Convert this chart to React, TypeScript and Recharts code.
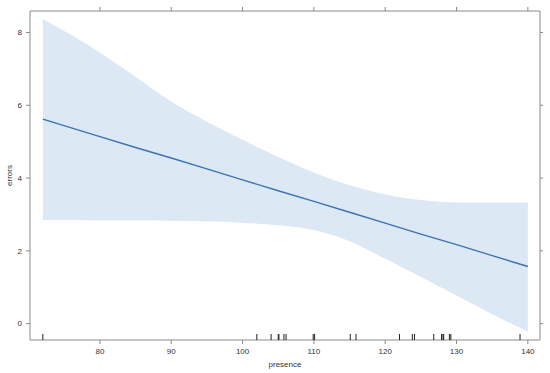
import {
  Area,
  ComposedChart,
  Line,
  Scatter,
  XAxis,
  YAxis,
} from "recharts";

// effect of presence on errors
const presence = [72, 76, 80, 85, 90, 95, 100, 105, 110, 115, 120, 125, 130, 135, 140];
const fit = [5.62, 5.38, 5.14, 4.84, 4.55, 4.25, 3.95, 3.65, 3.36, 3.06, 2.76, 2.46, 2.17, 1.87, 1.57];
const lower = [2.85, 2.85, 2.84, 2.84, 2.83, 2.81, 2.77, 2.7, 2.57, 2.26, 1.78, 1.28, 0.77, 0.26, -0.22];
const upper = [8.36, 7.93, 7.45, 6.78, 6.1, 5.55, 5.05, 4.58, 4.15, 3.8, 3.55, 3.4, 3.33, 3.32, 3.33];

// observed presence values (rug)
const rugValues = [
  72, 102, 104, 105, 105.1, 105.8, 106.1, 109.9, 110.1, 115.1, 115.9, 122, 123.8, 124.1,
  126.8, 127.9, 128.1, 128.2, 129, 129.2, 138.9,
];

const xTicks = [80, 90, 100, 110, 120, 130, 140];
const yTicks = [0, 2, 4, 6, 8];

const xDomain: [number, number] = [70.2, 141.7];
const yDomain: [number, number] = [-0.45, 8.59];

const frame = "#8a8a8a";
const textColor = "#333333";
const font = "'Liberation Sans', Arial, sans-serif";

const rows = presence.map((x, i) => ({
  x,
  fit: fit[i],
  band: [lower[i], upper[i]],
}));
const rugRows = rugValues.map((x) => ({ x, y: yDomain[0] }));

function RugTick(props: { cx?: number; cy?: number }) {
  const { cx = 0, cy = 0 } = props;
  return <line x1={cx} x2={cx} y1={cy} y2={cy - 6} stroke="#222" strokeWidth={1} />;
}

const blank = () => "";

export default function App() {
  const tickStyle = { fontSize: 8, fill: textColor, fontFamily: font };
  return (
    <div style={{ position: "absolute", left: 0, top: 0, background: "#fff", fontFamily: font }}>
      <ComposedChart
        width={550}
        height={373}
        data={rows}
        margin={{ top: 10, right: 9, bottom: 0, left: 0 }}
        style={{ fontFamily: font }}
      >
        <XAxis
          dataKey="x"
          type="number"
          domain={xDomain}
          ticks={xTicks}
          allowDataOverflow
          height={33}
          tick={tickStyle}
          tickSize={4}
          tickMargin={4}
          stroke={frame}
          label={{
            value: "presence",
            position: "insideBottom",
            offset: 6,
            style: { fontSize: 8, fill: textColor, fontFamily: font },
          }}
        />
        <XAxis
          xAxisId="top"
          orientation="top"
          dataKey="x"
          type="number"
          domain={xDomain}
          ticks={xTicks}
          allowDataOverflow
          height={1}
          tickFormatter={blank}
          tickSize={4}
          stroke={frame}
        />
        <YAxis
          type="number"
          domain={yDomain}
          ticks={yTicks}
          allowDataOverflow
          width={30}
          tick={tickStyle}
          tickSize={4}
          tickMargin={4}
          stroke={frame}
          label={{
            content: (p: any) => {
              const vb = p.viewBox || {};
              const cx = 9;
              const cy = (vb.y ?? 0) + (vb.height ?? 0) / 2;
              return (
                <text
                  x={cx}
                  y={cy}
                  transform={`rotate(-90 ${cx} ${cy})`}
                  textAnchor="middle"
                  dominantBaseline="central"
                  style={{ fontSize: 8, fill: textColor, fontFamily: font }}
                >
                  errors
                </text>
              );
            },
          }}
        />
        <YAxis
          yAxisId="right"
          orientation="right"
          type="number"
          domain={yDomain}
          ticks={yTicks}
          allowDataOverflow
          width={1}
          tickFormatter={blank}
          tickSize={3}
          stroke={frame}
        />
        <Area
          dataKey="band"
          type="monotone"
          fill="#dce8f4"
          fillOpacity={1}
          stroke="none"
          isAnimationActive={false}
        />
        <Line
          dataKey="fit"
          type="linear"
          stroke="#3b73b2"
          strokeWidth={1.4}
          dot={false}
          isAnimationActive={false}
        />
        <Scatter
          data={rugRows}
          dataKey="y"
          xAxisId="top"
          yAxisId="right"
          shape={<RugTick />}
          isAnimationActive={false}
        />
      </ComposedChart>
    </div>
  );
}
